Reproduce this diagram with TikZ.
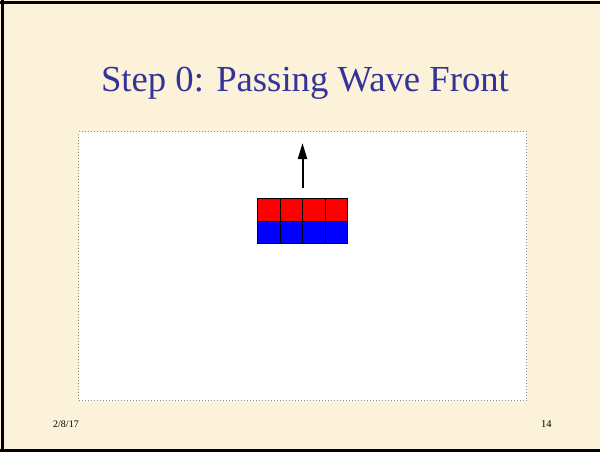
\documentclass[tikz,border=0pt]{standalone}
\usepackage{fontspec}
\setmainfont{Liberation Serif}
\usetikzlibrary{arrows.meta}
\definecolor{parch}{HTML}{FCF2DA}
\definecolor{titleblue}{HTML}{333399}
\definecolor{dotgray}{HTML}{8C8C8C}
\tikzset{
  cellred/.style={draw=black, line width=0.6pt, fill=red, minimum width=22.5pt, minimum height=22.5pt, inner sep=0pt, outer sep=0pt},
  cellblue/.style={draw=black, line width=0.6pt, fill=blue, minimum width=22.5pt, minimum height=22.5pt, inner sep=0pt, outer sep=0pt},
  frameline/.style={line width=3pt, black},
  footer/.style={font=\fontsize{10}{12}\selectfont, text=black, inner sep=0pt, anchor=base west}
}
\begin{document}
\begin{tikzpicture}[x=1pt,y=-1pt]
\useasboundingbox (0,0) rectangle (600,452);
\fill[parch] (0,0) rectangle (600,452);
% frame
\draw[frameline] (2.5,0) -- (2.5,452);
\draw[frameline] (0,2.5) -- (600,2.5);
\draw[frameline] (0,450.5) -- (600,450.5);
% title
\node[text=titleblue, font=\fontsize{36.7}{40}\selectfont, inner sep=0pt, anchor=base] (title) at (305,92) {Step 0: Passing Wave Front};
% white panel
\node[draw=dotgray, dotted, line width=1pt, fill=white, minimum width=448pt, minimum height=269pt, inner sep=0pt, anchor=north west] (panel) at (78,131) {};
% grid
\foreach \i in {0,1,2,3}{
  \node[cellred, anchor=north west] (r\i) at (257.5+22.5*\i,198.5) {};
  \node[cellblue, anchor=north west] (b\i) at (257.5+22.5*\i,221) {};
}
% arrow
\coordinate (arrowstart) at (302.5,188);
\coordinate (arrowend) at (302.5,143);
\draw[line width=2pt, -{Triangle[length=16pt,width=9pt]}] (arrowstart) -- (arrowend);
% footer
\node[footer] (date) at (53,427) {2/8/17};
\node[footer, font=\fontsize{10.5}{12}\selectfont] (page) at (541,427) {14};
\end{tikzpicture}
\end{document}
